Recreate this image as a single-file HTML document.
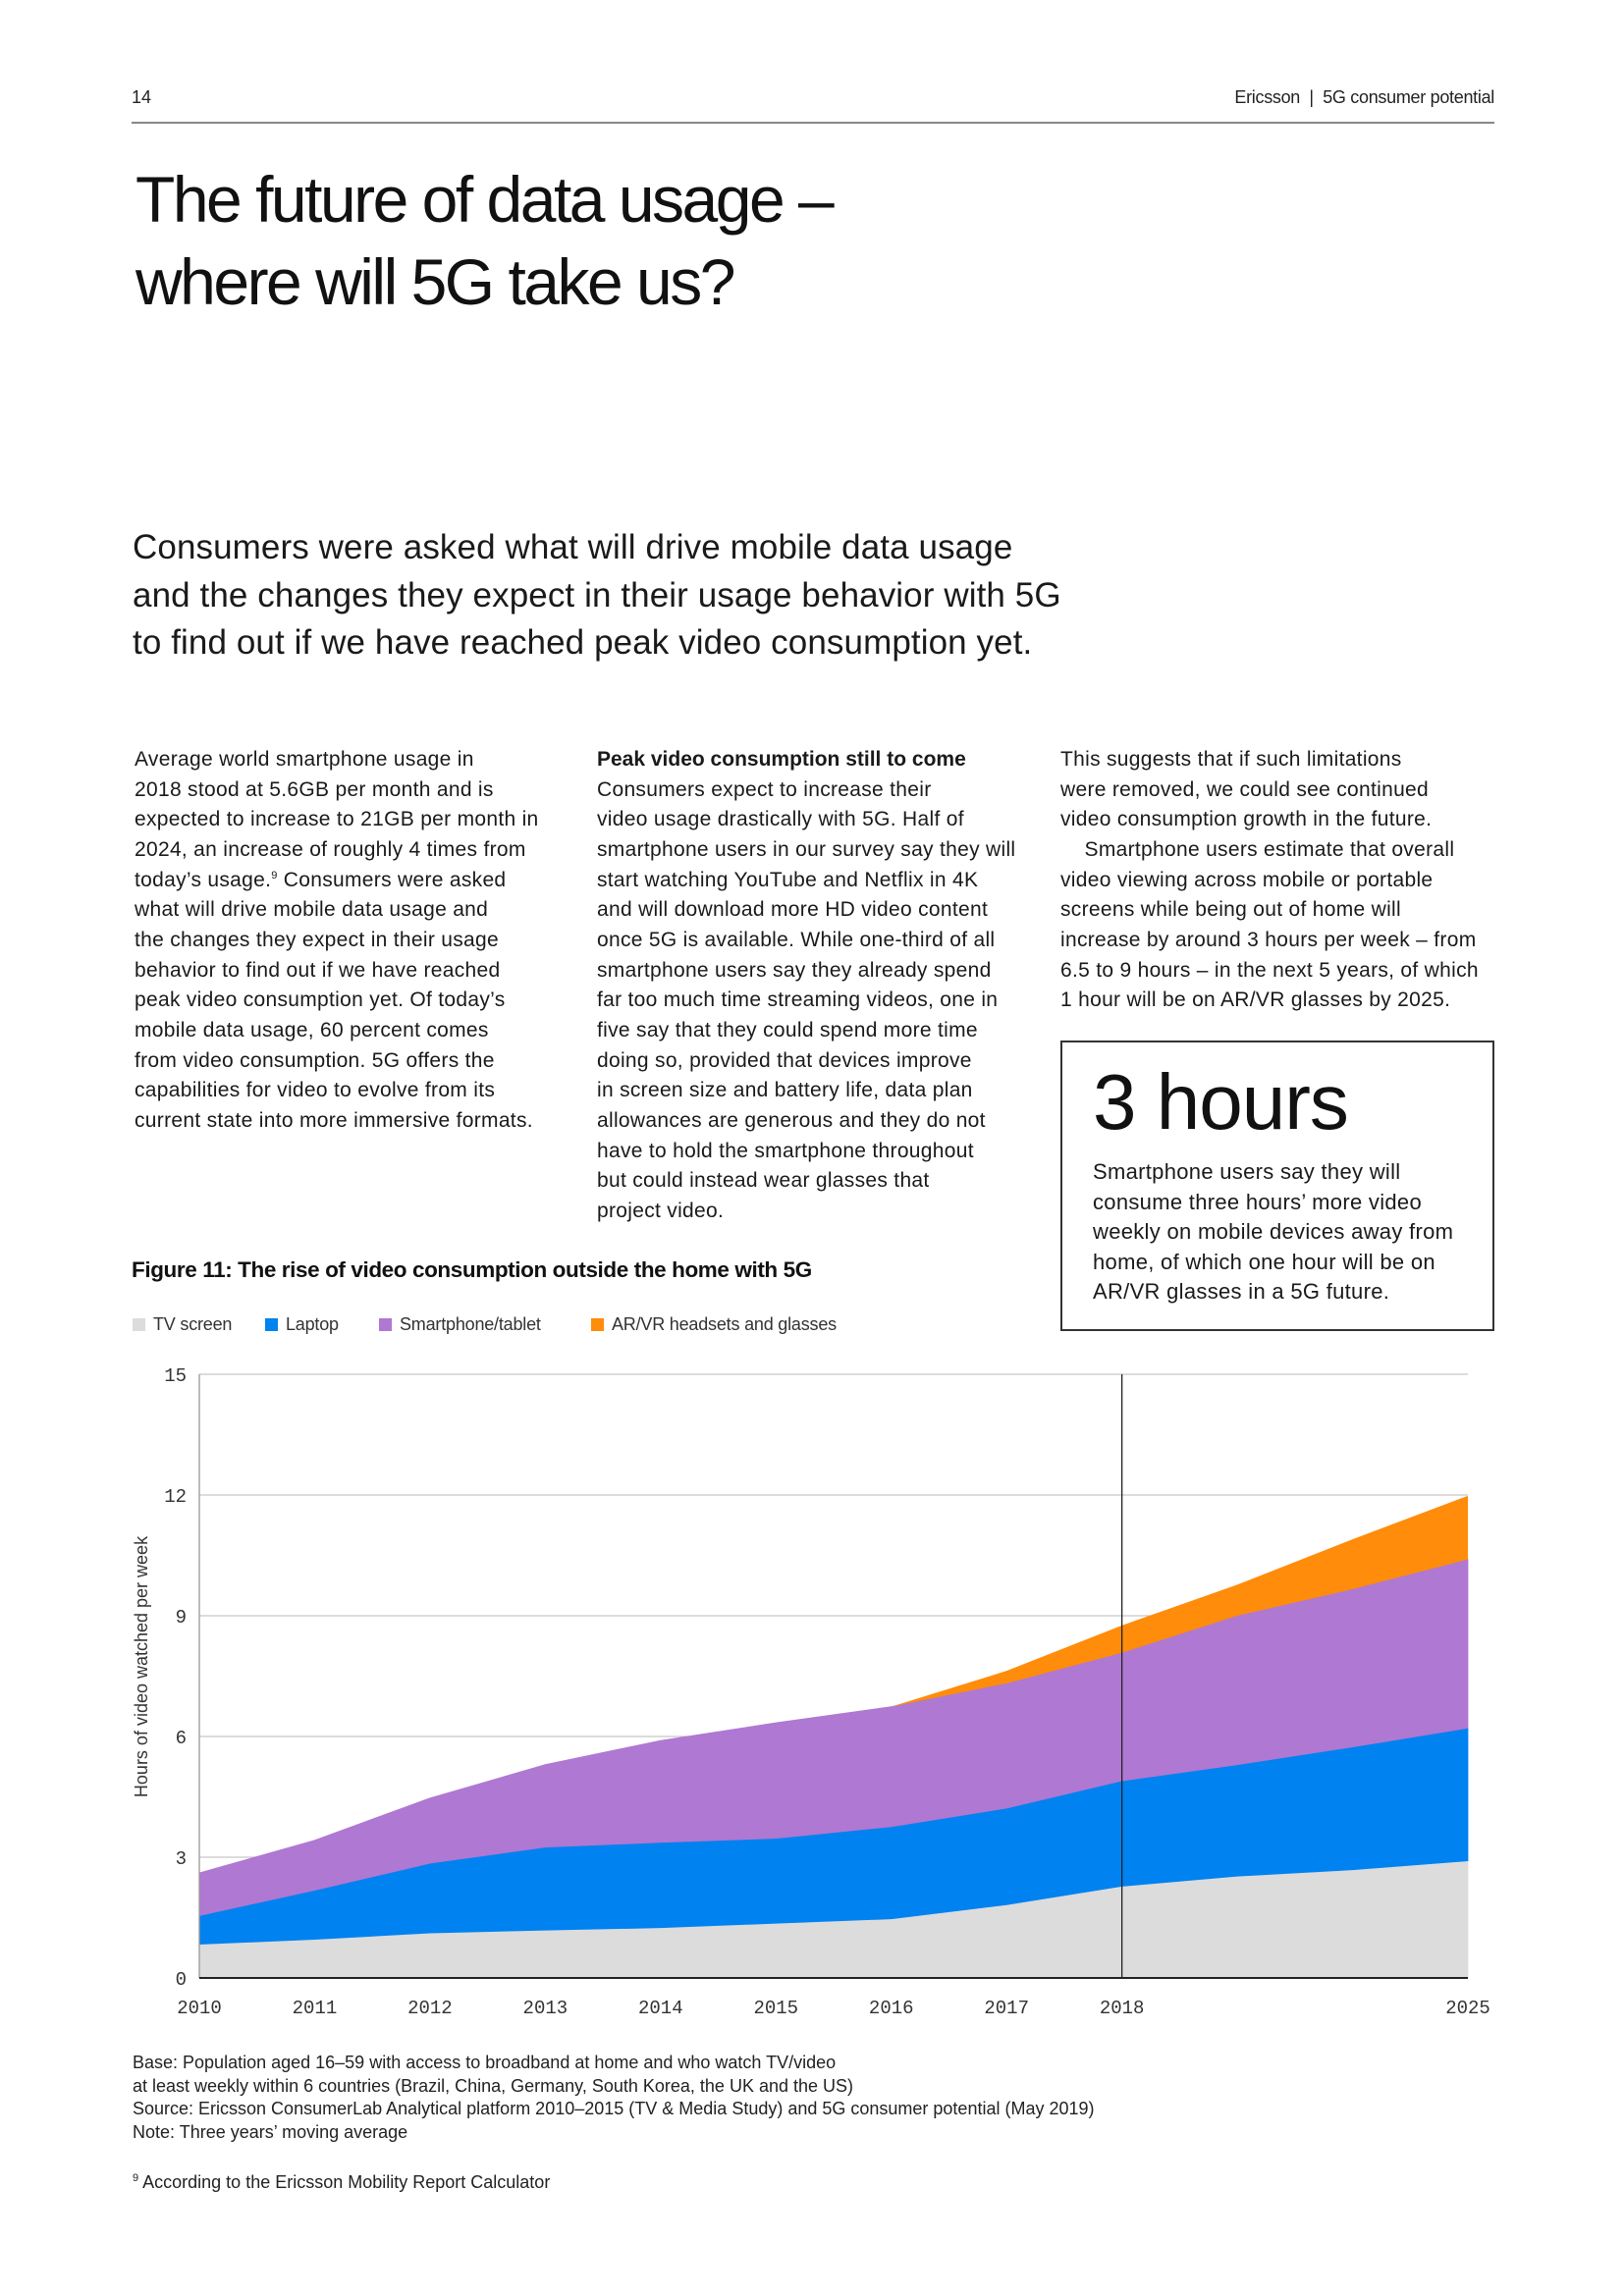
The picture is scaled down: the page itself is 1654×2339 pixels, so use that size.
<!DOCTYPE html>
<html><head><meta charset="utf-8">
<style>
body{margin:0;background:#fff;}
#page{position:relative;width:1654px;height:2339px;background:#fff;font-family:"Liberation Sans",sans-serif;color:#111;overflow:hidden;}
.abs{position:absolute;white-space:nowrap;}
.col{position:absolute;font-size:21px;line-height:30.65px;letter-spacing:0.3px;white-space:nowrap;color:#1a1a1a;}
.lg{position:absolute;top:1339px;font-size:18px;color:#333;letter-spacing:-0.2px;}
.lg i{display:inline-block;width:13px;height:13px;margin-right:8px;vertical-align:-1px;}
.note{position:absolute;left:135px;font-size:18px;line-height:23.6px;color:#222;white-space:nowrap;letter-spacing:0px;}
</style></head>
<body>
<div id="page">
<div class="abs" style="left:134px;top:89px;font-size:18px;color:#222;">14</div>
<div class="abs" style="right:132px;top:89px;font-size:18px;color:#222;letter-spacing:-0.3px;">Ericsson &nbsp;|&nbsp; 5G consumer potential</div>
<div class="abs" style="left:134px;top:124px;width:1388px;height:2px;background:#888;"></div>
<div class="abs" style="left:138px;top:161px;font-size:66px;line-height:84px;letter-spacing:-2.5px;color:#111;">The future of data usage –<br>where will 5G take us?</div>
<div class="abs" style="left:135px;top:534px;font-size:35px;line-height:48.6px;letter-spacing:0.1px;color:#1a1a1a;">Consumers were asked what will drive mobile data usage<br>and the changes they expect in their usage behavior with 5G<br>to find out if we have reached peak video consumption yet.</div>

<div class="col" style="left:137px;top:759px;">Average world smartphone usage in<br>2018 stood at 5.6GB per month and is<br>expected to increase to 21GB per month in<br>2024, an increase of roughly 4 times from<br>today’s usage.<sup style="font-size:11px;line-height:0">9</sup> Consumers were asked<br>what will drive mobile data usage and<br>the changes they expect in their usage<br>behavior to find out if we have reached<br>peak video consumption yet. Of today’s<br>mobile data usage, 60 percent comes<br>from video consumption. 5G offers the<br>capabilities for video to evolve from its<br>current state into more immersive formats.</div>
<div class="col" style="left:608px;top:759px;"><b style="letter-spacing:0">Peak video consumption still to come</b><br>Consumers expect to increase their<br>video usage drastically with 5G. Half of<br>smartphone users in our survey say they will<br>start watching YouTube and Netflix in 4K<br>and will download more HD video content<br>once 5G is available. While one-third of all<br>smartphone users say they already spend<br>far too much time streaming videos, one in<br>five say that they could spend more time<br>doing so, provided that devices improve<br>in screen size and battery life, data plan<br>allowances are generous and they do not<br>have to hold the smartphone throughout<br>but could instead wear glasses that<br>project video.</div>
<div class="col" style="left:1080px;top:759px;">This suggests that if such limitations<br>were removed, we could see continued<br>video consumption growth in the future.<br>&nbsp;&nbsp;&nbsp;&nbsp;Smartphone users estimate that overall<br>video viewing across mobile or portable<br>screens while being out of home will<br>increase by around 3 hours per week – from<br>6.5 to 9 hours – in the next 5 years, of which<br>1 hour will be on AR/VR glasses by 2025.</div>

<div class="abs" style="left:1080px;top:1060px;width:438px;height:292px;border:2px solid #333;">
 <div class="abs" style="left:31px;top:15px;font-size:80px;letter-spacing:-1px;color:#111;">3 hours</div>
 <div class="abs" style="left:31px;top:117px;font-size:22px;line-height:30.6px;letter-spacing:0.3px;color:#1a1a1a;">Smartphone users say they will<br>consume three hours’ more video<br>weekly on mobile devices away from<br>home, of which one hour will be on<br>AR/VR glasses in a 5G future.</div>
</div>

<div class="abs" style="left:134px;top:1281px;font-size:22.5px;font-weight:bold;letter-spacing:-0.4px;">Figure 11: The rise of video consumption outside the home with 5G</div>
<div class="lg" style="left:135px;"><i style="background:#dcdcdc"></i>TV screen</div>
<div class="lg" style="left:270px;"><i style="background:#0082f0"></i>Laptop</div>
<div class="lg" style="left:386px;"><i style="background:#af78d2"></i>Smartphone/tablet</div>
<div class="lg" style="left:602px;"><i style="background:#ff8c0a"></i>AR/VR headsets and glasses</div>

<svg id="chart" style="position:absolute;left:0;top:0" width="1654" height="2339"></svg>

<div class="note" style="top:2090px;">Base: Population aged 16–59 with access to broadband at home and who watch TV/video<br>at least weekly within 6 countries (Brazil, China, Germany, South Korea, the UK and the US)<br>Source: Ericsson ConsumerLab Analytical platform 2010–2015 (TV &amp; Media Study) and 5G consumer potential (May 2019)<br>Note: Three years’ moving average</div>
<div class="note" style="top:2208px;"><sup style="font-size:11px">9</sup> According to the Ericsson Mobility Report Calculator</div>
</div>

<script>
const xIndex = [0,1,2,3,4,5,6,7,8,9,10,11];
const xLabels = ["2010","2011","2012","2013","2014","2015","2016","2017","2018","","","2025"];
const tvScreen = [0.84,0.96,1.12,1.19,1.25,1.36,1.47,1.82,2.28,2.53,2.69,2.91];
const laptop = [0.71,1.22,1.73,2.06,2.12,2.11,2.29,2.40,2.62,2.77,3.05,3.30];
const smartphone = [1.06,1.24,1.62,2.05,2.53,2.87,2.98,3.10,3.18,3.70,3.92,4.19];
const arvr = [0,0,0,0,0,0,0,0.31,0.68,0.77,1.24,1.58];
const yTicks = [0,3,6,9,12,15];
const markerIndex = 8;

const NS="http://www.w3.org/2000/svg";
const svg=document.getElementById('chart');
const L=203,R=1495,T=1400,B=2015,xMax=11,yMax=15;
const xs=i=>L+i*(R-L)/xMax;
const ys=v=>B-v*(B-T)/yMax;
function mk(tag,attrs){const e=document.createElementNS(NS,tag);for(const k in attrs)e.setAttribute(k,attrs[k]);svg.appendChild(e);return e;}

yTicks.forEach(t=>{
  if(t>0){const g=mk('line',{x1:L,x2:R,y1:ys(t),y2:ys(t),stroke:'#c8c8c8','stroke-width':1.3});
  
  }
  const tx=mk('text',{x:190,y:ys(t)+7,'text-anchor':'end','font-size':19,'font-family':'Liberation Mono, monospace',fill:'#333'});
  tx.textContent=t;
  
  
});

const series=[[tvScreen,'#dcdcdc','area-tv-screen'],[laptop,'#0082f0','area-laptop'],[smartphone,'#af78d2','area-smartphone-tablet'],[arvr,'#ff8c0a','area-ar-vr']];
let base=xIndex.map(()=>0);
series.forEach(([vals,col,name])=>{
  const top=base.map((b,i)=>b+vals[i]);
  let d='M'+xIndex.map((xi,i)=>xs(xi)+','+ys(top[i])).join('L');
  for(let i=xIndex.length-1;i>=0;i--) d+='L'+xs(xIndex[i])+','+ys(base[i]);
  const p=mk('path',{d:d+'Z',fill:col,stroke:name==='area-ar-vr'?'none':col,'stroke-width':0.8});
  
  
  base=top;
});

const ax=mk('line',{x1:L,x2:L,y1:T,y2:B,stroke:'#999','stroke-width':1.3});


const bx=mk('line',{x1:L,x2:R,y1:B,y2:B,stroke:'#222','stroke-width':2});


const vl=mk('line',{x1:xs(markerIndex),x2:xs(markerIndex),y1:T,y2:B,stroke:'#222','stroke-width':1.3});



xIndex.forEach((xi,i)=>{
  if(!xLabels[i])return;
  const t=mk('text',{x:xs(xi),y:2051,'text-anchor':'middle','font-size':19,'font-family':'Liberation Mono, monospace',fill:'#333'});
  t.textContent=xLabels[i];
  
  
});

const yt=mk('text',{x:0,y:0,'text-anchor':'middle','font-size':18,'font-family':'Liberation Sans, sans-serif',fill:'#333',transform:'translate(150,1698) rotate(-90)'});
yt.textContent='Hours of video watched per week';


</script>
</body></html>
